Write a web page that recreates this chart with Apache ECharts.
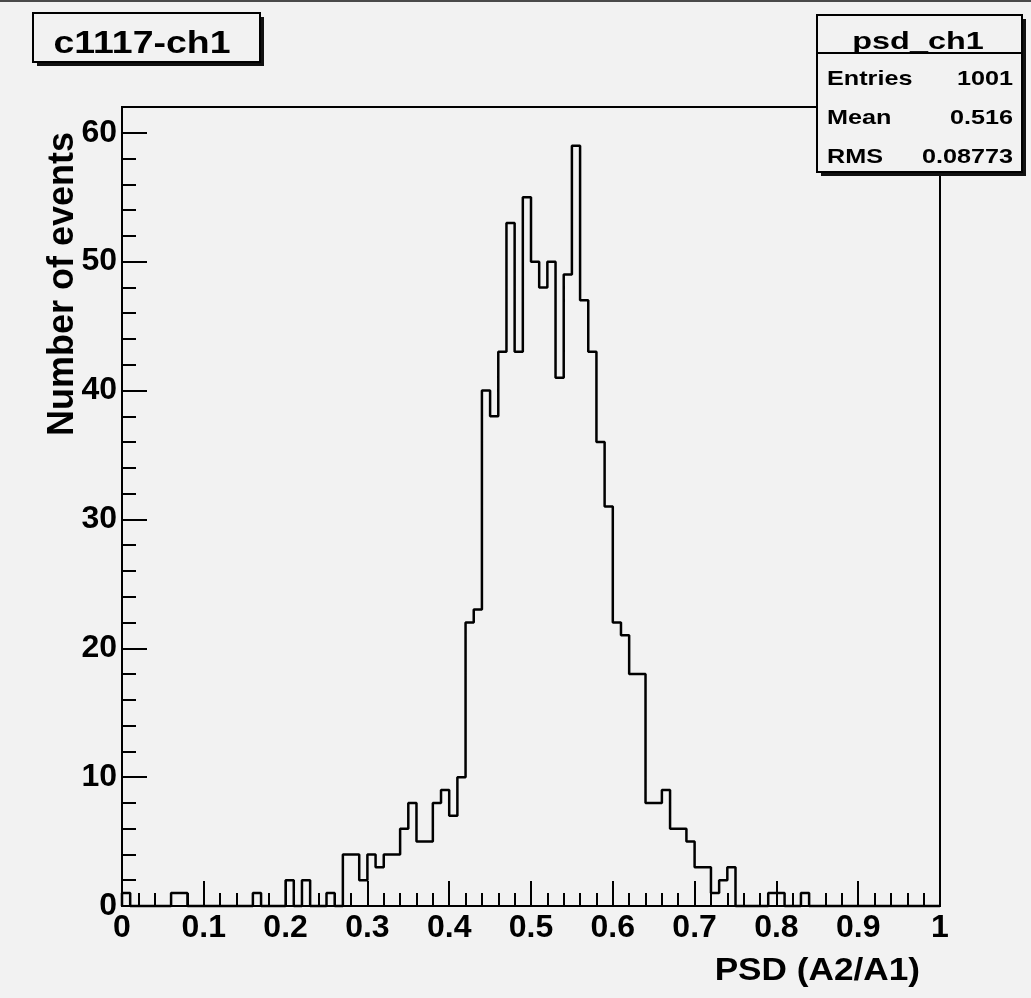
<!DOCTYPE html>
<html>
<head>
<meta charset="utf-8">
<title>psd_ch1</title>
<script src="https://cdn.jsdelivr.net/npm/echarts@6/dist/echarts.min.js"></script>
<style>
  html, body { margin: 0; padding: 0; background: #f2f2f2; }
  #chart { width: 1031px; height: 998px; }
</style>
</head>
<body>
<div id="chart"></div>
<script>
// Histogram of PSD (A2/A1) for channel 1, 100 bins on [0, 1)
const binWidth = 0.01;
const counts = [
  1, 0, 0, 0, 0, 0, 1, 1, 0, 0,
  0, 0, 0, 0, 0, 0, 1, 0, 0, 0,
  2, 0, 2, 0, 0, 1, 0, 4, 4, 2,
  4, 3, 4, 4, 6, 8, 5, 5, 8, 9,
  7, 10, 22, 23, 40, 38, 43, 53, 43, 55,
  50, 48, 50, 41, 49, 59, 47, 43, 36, 31,
  22, 21, 18, 18, 8, 8, 9, 6, 6, 5,
  3, 3, 1, 2, 3, 0, 0, 0, 0, 1,
  1, 0, 0, 1, 0, 0, 0, 0, 0, 0,
  0, 0, 0, 0, 0, 0, 0, 0, 0, 0
];
const xTickLabels = ['0', '0.1', '0.2', '0.3', '0.4', '0.5', '0.6', '0.7', '0.8', '0.9', '1'];
const yTickLabels = ['0', '10', '20', '30', '40', '50', '60'];
const statsLabels = ['Entries', 'Mean', 'RMS'];
const statsValues = ['1001', '0.516', '0.08773'];

// Outline points: one per bin low edge, closed at the upper edge
const outline = [[0, 0]];
counts.forEach((c, i) => outline.push([+(i * binWidth).toFixed(2), c]));
outline.push([1, counts[counts.length - 1]]);

const FONT = "'Liberation Sans', Arial, Helvetica, sans-serif";
const chart = echarts.init(document.getElementById('chart'), null, { renderer: 'canvas' });

const statsText = [];
statsLabels.forEach((lab, i) => {
  const cy = 79 + i * 39;
  statsText.push({
    type: 'text', x: 827, y: cy, scaleX: 1.2, z: 102,
    style: { text: lab, font: 'bold 21px ' + FONT, fill: '#000', align: 'left', verticalAlign: 'middle' }
  });
  statsText.push({
    type: 'text', x: 1013, y: cy, scaleX: 1.2, z: 102,
    style: { text: statsValues[i], font: 'bold 21px ' + FONT, fill: '#000', align: 'right', verticalAlign: 'middle' }
  });
});

chart.setOption({
  animation: false,
  backgroundColor: '#f2f2f2',
  grid: {
    left: 122, top: 107, width: 818, height: 799,
    show: true, borderColor: '#000', borderWidth: 2, backgroundColor: 'transparent',
    containLabel: false
  },
  xAxis: [{
    type: 'value', min: 0, max: 1, interval: 0.1, position: 'bottom',
    axisLine: { show: true, lineStyle: { color: '#000', width: 2 } },
    axisTick: { show: true, inside: true, length: 25, lineStyle: { color: '#000', width: 2 } },
    minorTick: { show: true, splitNumber: 5, length: 13, lineStyle: { color: '#000', width: 2 } },
    axisLabel: {
      margin: 6, color: '#000', fontSize: 32, fontWeight: 'bold', fontFamily: FONT,
      showMinLabel: true, showMaxLabel: true,
      formatter: v => xTickLabels[Math.round(v * 10)]
    },
    splitLine: { show: false }
  }],
  yAxis: [{
    type: 'value', min: 0, max: 62, interval: 2, position: 'left',
    axisLine: { show: true, lineStyle: { color: '#000', width: 2 } },
    axisTick: { show: true, inside: true, length: 14, lineStyle: { color: '#000', width: 2 } },
    axisLabel: {
      margin: 5, color: '#000', fontSize: 32, fontWeight: 'bold', fontFamily: FONT,
      formatter: v => (v % 10 === 0 ? yTickLabels[v / 10] : '')
    },
    splitLine: { show: false }
  }, {
    type: 'value', min: 0, max: 62, interval: 10, position: 'left',
    axisLine: { show: false },
    axisTick: { show: true, inside: true, length: 25, lineStyle: { color: '#000', width: 2 } },
    axisLabel: { show: false },
    splitLine: { show: false }
  }],
  series: [{
    type: 'line', step: 'end', xAxisIndex: 0, yAxisIndex: 0,
    data: outline, symbol: 'none', clip: false, z: 5,
    lineStyle: { color: '#000', width: 2.5 }
  }],
  graphic: [
    // window edge
    { type: 'rect', shape: { x: 0, y: 0, width: 1031, height: 2 }, style: { fill: '#4a4a4a' }, z: 100 },
    // axis titles
    {
      type: 'text', x: 920, y: 971, scaleX: 1.1, z: 100,
      style: { text: 'PSD (A2/A1)', font: 'bold 32px ' + FONT, fill: '#000', align: 'right', verticalAlign: 'middle' }
    },
    {
      type: 'text', x: 63, y: 132, rotation: Math.PI / 2, z: 100,
      style: { text: 'Number of events', font: 'bold 36px ' + FONT, fill: '#000', align: 'right', verticalAlign: 'middle' }
    },
    // canvas title box
    { type: 'rect', shape: { x: 37, y: 17, width: 227, height: 49 }, style: { fill: '#111' }, z: 100 },
    { type: 'rect', shape: { x: 33, y: 13, width: 227, height: 49 }, style: { fill: '#f2f2f2', stroke: '#000', lineWidth: 2 }, z: 101 },
    {
      type: 'text', x: 142, y: 44, scaleX: 1.17, z: 102,
      style: { text: 'c1117-ch1', font: 'bold 32px ' + FONT, fill: '#000', align: 'center', verticalAlign: 'middle' }
    },
    // statistics box
    { type: 'rect', shape: { x: 821, y: 19, width: 205, height: 157 }, style: { fill: '#111' }, z: 100 },
    { type: 'rect', shape: { x: 817, y: 15, width: 205, height: 157 }, style: { fill: '#f2f2f2', stroke: '#000', lineWidth: 2 }, z: 101 },
    { type: 'line', shape: { x1: 817, y1: 53, x2: 1022, y2: 53 }, style: { stroke: '#000', lineWidth: 2 }, z: 102 },
    {
      type: 'text', x: 918, y: 42, scaleX: 1.35, z: 102,
      style: { text: 'psd_ch1', font: 'bold 24px ' + FONT, fill: '#000', align: 'center', verticalAlign: 'middle' }
    }
  ].concat(statsText)
});
</script>
</body>
</html>
